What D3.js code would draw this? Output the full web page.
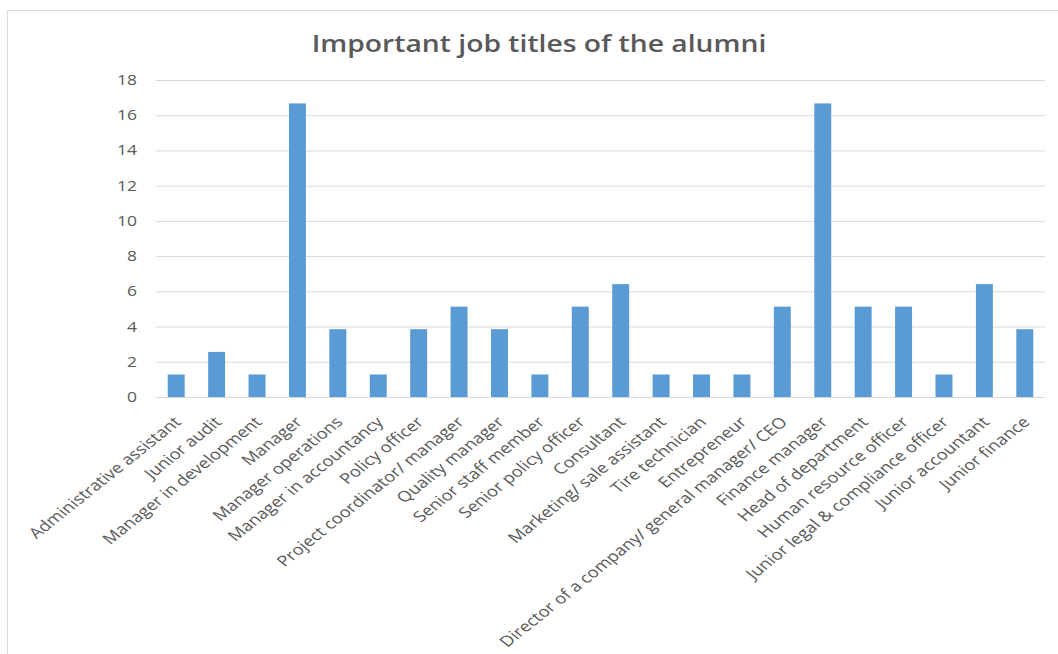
<!DOCTYPE html>
<html>
  <head>
    <title>Important job titles of the alumni</title>
    <style>
      body { margin: 0; background: #fff; }
      text { font-family: "Open Sans", "Liberation Sans", sans-serif; }
    </style>
  </head>
  <body>
    <svg width="1058" height="654"></svg>
    <script src="https://d3js.org/d3.v7.min.js"></script>
    <script>

    // job titles and share of alumni (%)
    var titles = ["Administrative assistant", "Junior audit", "Manager in development", "Manager",
      "Manager operations", "Manager in accountancy", "Policy officer", "Project coordinator/ manager",
      "Quality manager", "Senior staff member", "Senior policy officer", "Consultant",
      "Marketing/ sale assistant", "Tire technician", "Entrepreneur",
      "Director of a company/ general manager/ CEO", "Finance manager", "Head of department",
      "Human resource officer", "Junior legal & compliance officer", "Junior accountant", "Junior finance"];
    var shares = [1.28, 2.56, 1.28, 16.67, 3.85, 1.28, 3.85, 5.13, 3.85, 1.28, 5.13, 6.41,
      1.28, 1.28, 1.28, 5.13, 16.67, 5.13, 5.13, 1.28, 6.41, 3.85];
    var yTicks = [0, 2, 4, 6, 8, 10, 12, 14, 16, 18];

    var svg = d3.select("svg"),
        margin = {top: 80, left: 156, right: 13, bottom: 257},
        width = 1058 - margin.left - margin.right,
        height = 654 - margin.top - margin.bottom,
        stretch = 1.25;   // the picture is a bit wider than tall, text gets the same stretch

    // chart border
    svg.append("rect")
        .attr("x", 7.5).attr("y", 10.5)
        .attr("width", 1070).attr("height", 700)
        .attr("fill", "#fff")
        .attr("stroke", "#d9d9d9");

    svg.append("text")
        .attr("transform", "translate(539,52) scale(" + stretch + ",1)")
        .attr("text-anchor", "middle")
        .attr("fill", "#595959")
        .attr("font-size", 22.6)
        .attr("font-weight", 600)
        .text("Important job titles of the alumni");

    var g = svg.append("g")
        .attr("transform", "translate(" + margin.left + "," + margin.top + ")");

    var x = d3.scaleBand().domain(titles).range([0, width]).paddingInner(0.58).paddingOuter(0.29);
    var y = d3.scaleLinear().domain([0, 18]).range([height, 0]);

    // gridlines
    var yAxis = g.append("g")
        .call(d3.axisLeft(y).tickValues(yTicks).tickSize(-width));
    yAxis.select(".domain").remove();
    yAxis.selectAll("line").attr("stroke", "#d9d9d9");
    yAxis.selectAll("text")
        .attr("x", -19 / stretch)
        .attr("transform", "scale(" + stretch + ",1)")
        .attr("fill", "#595959")
        .attr("font-size", 14);

    g.selectAll(".bar")
      .data(shares)
      .enter().append("rect")
        .attr("class", "bar")
        .attr("x", function(d, i) { return x(titles[i]); })
        .attr("y", function(d) { return y(d); })
        .attr("width", x.bandwidth())
        .attr("height", function(d) { return height - y(d); })
        .attr("fill", "#5b9bd5");

    var xAxis = g.append("g")
        .attr("transform", "translate(0," + height + ")")
        .call(d3.axisBottom(x).tickSize(0).tickPadding(0));
    xAxis.select(".domain").attr("stroke", "#d9d9d9");
    xAxis.selectAll("text")
        .attr("fill", "#595959")
        .attr("font-size", 14.8)
        .attr("text-anchor", "end")
        .attr("y", 0)
        .attr("dy", 0)
        .attr("transform", "translate(6,26) scale(" + stretch + ",1) rotate(-45)");

    </script>
  </body>
</html>
